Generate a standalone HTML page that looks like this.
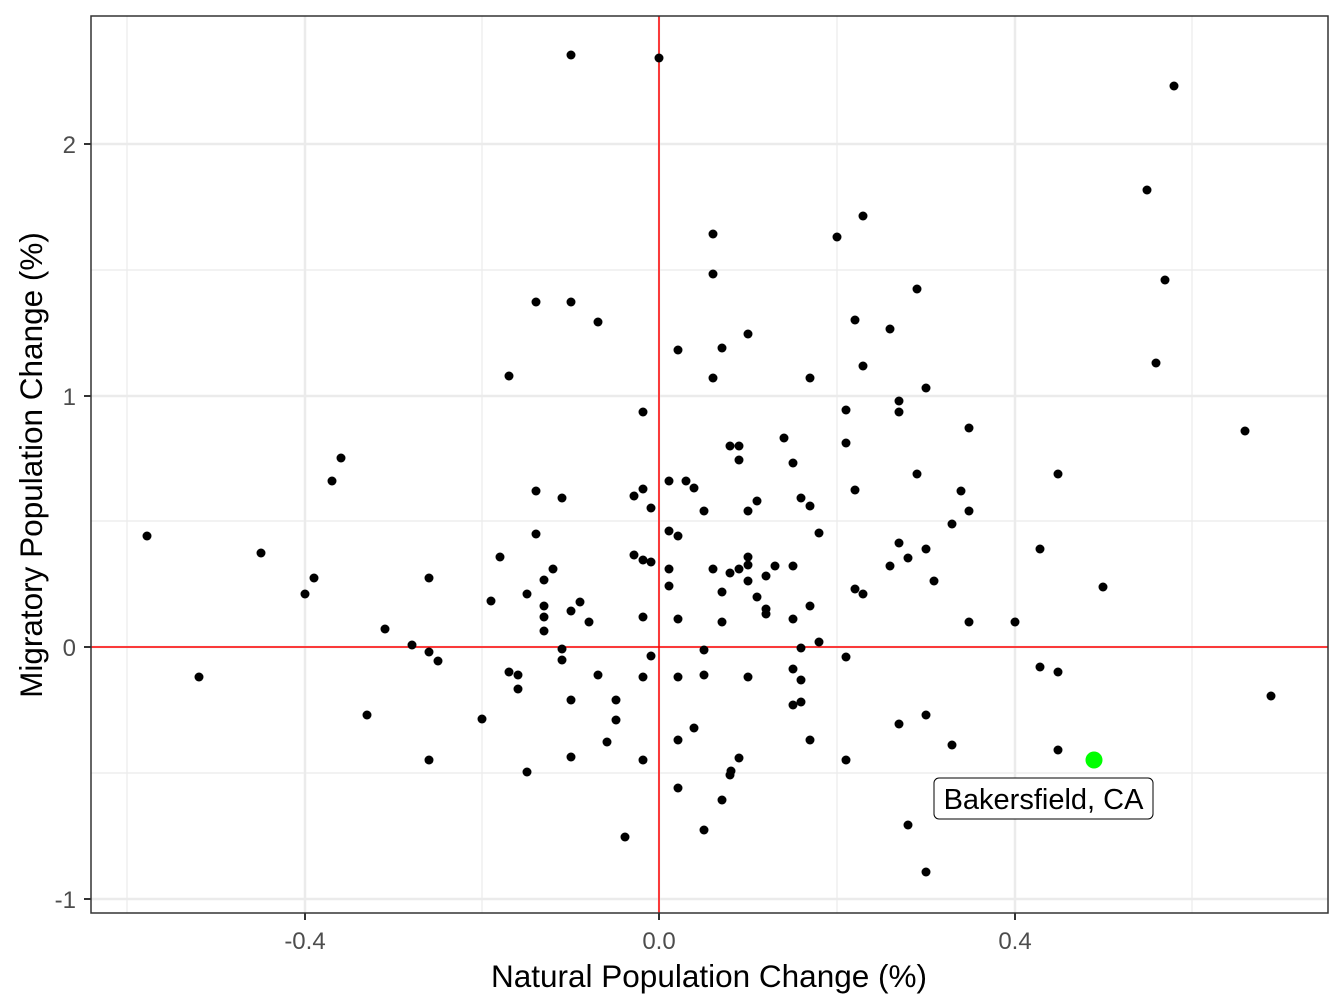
<!DOCTYPE html>
<html><head><meta charset="utf-8"><style>body{margin:0;background:#fff}svg{display:block}text{font-family:"Liberation Sans",sans-serif}</style></head><body>
<svg width="1344" height="1008" xmlns="http://www.w3.org/2000/svg">
<rect width="1344" height="1008" fill="#fff"/>
<g stroke="#ebebeb" stroke-width="1.2">
<line x1="127" y1="16" x2="127" y2="913"/><line x1="482" y1="16" x2="482" y2="913"/><line x1="837" y1="16" x2="837" y2="913"/><line x1="1192" y1="16" x2="1192" y2="913"/>
<line x1="91" y1="270" x2="1328" y2="270"/><line x1="91" y1="521" x2="1328" y2="521"/><line x1="91" y1="773" x2="1328" y2="773"/>
</g>
<g stroke="#ebebeb" stroke-width="2.5">
<line x1="305" y1="16" x2="305" y2="913"/><line x1="659" y1="16" x2="659" y2="913"/><line x1="1015" y1="16" x2="1015" y2="913"/>
<line x1="91" y1="144" x2="1328" y2="144"/><line x1="91" y1="396" x2="1328" y2="396"/><line x1="91" y1="647" x2="1328" y2="647"/><line x1="91" y1="899" x2="1328" y2="899"/>
</g>
<line x1="659" y1="16" x2="659" y2="913" stroke="#f00" stroke-width="1.5"/>
<line x1="91" y1="647" x2="1328" y2="647" stroke="#f00" stroke-width="1.5"/>
<g fill="#000">
<circle cx="147" cy="536" r="4.5"/><circle cx="199" cy="677" r="4.5"/><circle cx="261" cy="553" r="4.5"/><circle cx="305" cy="594" r="4.5"/><circle cx="314" cy="578" r="4.5"/><circle cx="332" cy="481" r="4.5"/><circle cx="341" cy="458" r="4.5"/><circle cx="367" cy="715" r="4.5"/><circle cx="385" cy="629" r="4.5"/><circle cx="412" cy="645" r="4.5"/><circle cx="429" cy="578" r="4.5"/><circle cx="429" cy="652" r="4.5"/><circle cx="429" cy="760" r="4.5"/><circle cx="438" cy="661" r="4.5"/><circle cx="482" cy="719" r="4.5"/><circle cx="491" cy="601" r="4.5"/><circle cx="500" cy="557" r="4.5"/><circle cx="509" cy="376" r="4.5"/><circle cx="509" cy="672" r="4.5"/><circle cx="518" cy="675" r="4.5"/><circle cx="518" cy="689" r="4.5"/><circle cx="527" cy="594" r="4.5"/><circle cx="527" cy="772" r="4.5"/><circle cx="536" cy="302" r="4.5"/><circle cx="536" cy="491" r="4.5"/><circle cx="536" cy="534" r="4.5"/><circle cx="544" cy="580" r="4.5"/><circle cx="553" cy="569" r="4.5"/><circle cx="544" cy="606" r="4.5"/><circle cx="544" cy="617" r="4.5"/><circle cx="544" cy="631" r="4.5"/><circle cx="562" cy="649" r="4.5"/><circle cx="562" cy="660" r="4.5"/><circle cx="571" cy="302" r="4.5"/><circle cx="562" cy="498" r="4.5"/><circle cx="571" cy="611" r="4.5"/><circle cx="571" cy="700" r="4.5"/><circle cx="571" cy="757" r="4.5"/><circle cx="580" cy="602" r="4.5"/><circle cx="589" cy="622" r="4.5"/><circle cx="598" cy="322" r="4.5"/><circle cx="598" cy="675" r="4.5"/><circle cx="607" cy="742" r="4.5"/><circle cx="616" cy="700" r="4.5"/><circle cx="616" cy="720" r="4.5"/><circle cx="625" cy="837" r="4.5"/><circle cx="634" cy="555" r="4.5"/><circle cx="634" cy="496" r="4.5"/><circle cx="643" cy="412" r="4.5"/><circle cx="643" cy="489" r="4.5"/><circle cx="643" cy="560" r="4.5"/><circle cx="643" cy="617" r="4.5"/><circle cx="643" cy="677" r="4.5"/><circle cx="643" cy="760" r="4.5"/><circle cx="651" cy="508" r="4.5"/><circle cx="651" cy="562" r="4.5"/><circle cx="651" cy="656" r="4.5"/><circle cx="659" cy="58" r="4.5"/><circle cx="571" cy="55" r="4.5"/><circle cx="669" cy="481" r="4.5"/><circle cx="669" cy="531" r="4.5"/><circle cx="669" cy="569" r="4.5"/><circle cx="669" cy="586" r="4.5"/><circle cx="678" cy="350" r="4.5"/><circle cx="678" cy="536" r="4.5"/><circle cx="678" cy="619" r="4.5"/><circle cx="678" cy="677" r="4.5"/><circle cx="678" cy="740" r="4.5"/><circle cx="678" cy="788" r="4.5"/><circle cx="686" cy="481" r="4.5"/><circle cx="694" cy="488" r="4.5"/><circle cx="694" cy="728" r="4.5"/><circle cx="704" cy="511" r="4.5"/><circle cx="704" cy="650" r="4.5"/><circle cx="704" cy="675" r="4.5"/><circle cx="704" cy="830" r="4.5"/><circle cx="713" cy="234" r="4.5"/><circle cx="713" cy="274" r="4.5"/><circle cx="713" cy="378" r="4.5"/><circle cx="713" cy="569" r="4.5"/><circle cx="722" cy="348" r="4.5"/><circle cx="722" cy="592" r="4.5"/><circle cx="722" cy="622" r="4.5"/><circle cx="722" cy="800" r="4.5"/><circle cx="730" cy="446" r="4.5"/><circle cx="730" cy="573" r="4.5"/><circle cx="730" cy="775" r="4.5"/><circle cx="731" cy="771" r="4.5"/><circle cx="739" cy="446" r="4.5"/><circle cx="739" cy="460" r="4.5"/><circle cx="739" cy="569" r="4.5"/><circle cx="739" cy="758" r="4.5"/><circle cx="748" cy="334" r="4.5"/><circle cx="748" cy="511" r="4.5"/><circle cx="748" cy="557" r="4.5"/><circle cx="748" cy="565" r="4.5"/><circle cx="748" cy="581" r="4.5"/><circle cx="748" cy="677" r="4.5"/><circle cx="757" cy="501" r="4.5"/><circle cx="757" cy="597" r="4.5"/><circle cx="766" cy="576" r="4.5"/><circle cx="766" cy="609" r="4.5"/><circle cx="766" cy="614" r="4.5"/><circle cx="775" cy="566" r="4.5"/><circle cx="784" cy="438" r="4.5"/><circle cx="793" cy="463" r="4.5"/><circle cx="793" cy="566" r="4.5"/><circle cx="793" cy="619" r="4.5"/><circle cx="793" cy="669" r="4.5"/><circle cx="793" cy="705" r="4.5"/><circle cx="801" cy="498" r="4.5"/><circle cx="801" cy="648" r="4.5"/><circle cx="801" cy="680" r="4.5"/><circle cx="801" cy="702" r="4.5"/><circle cx="810" cy="378" r="4.5"/><circle cx="810" cy="506" r="4.5"/><circle cx="810" cy="606" r="4.5"/><circle cx="810" cy="740" r="4.5"/><circle cx="819" cy="533" r="4.5"/><circle cx="819" cy="642" r="4.5"/><circle cx="837" cy="237" r="4.5"/><circle cx="846" cy="410" r="4.5"/><circle cx="846" cy="443" r="4.5"/><circle cx="846" cy="657" r="4.5"/><circle cx="846" cy="760" r="4.5"/><circle cx="855" cy="320" r="4.5"/><circle cx="855" cy="490" r="4.5"/><circle cx="855" cy="589" r="4.5"/><circle cx="863" cy="216" r="4.5"/><circle cx="863" cy="366" r="4.5"/><circle cx="863" cy="594" r="4.5"/><circle cx="890" cy="329" r="4.5"/><circle cx="890" cy="566" r="4.5"/><circle cx="899" cy="401" r="4.5"/><circle cx="899" cy="412" r="4.5"/><circle cx="899" cy="543" r="4.5"/><circle cx="899" cy="724" r="4.5"/><circle cx="908" cy="558" r="4.5"/><circle cx="917" cy="289" r="4.5"/><circle cx="917" cy="474" r="4.5"/><circle cx="926" cy="388" r="4.5"/><circle cx="926" cy="549" r="4.5"/><circle cx="926" cy="715" r="4.5"/><circle cx="926" cy="872" r="4.5"/><circle cx="934" cy="581" r="4.5"/><circle cx="908" cy="825" r="4.5"/><circle cx="952" cy="524" r="4.5"/><circle cx="952" cy="745" r="4.5"/><circle cx="961" cy="491" r="4.5"/><circle cx="969" cy="428" r="4.5"/><circle cx="969" cy="511" r="4.5"/><circle cx="969" cy="622" r="4.5"/><circle cx="1015" cy="622" r="4.5"/><circle cx="1040" cy="549" r="4.5"/><circle cx="1040" cy="667" r="4.5"/><circle cx="1058" cy="474" r="4.5"/><circle cx="1058" cy="672" r="4.5"/><circle cx="1058" cy="750" r="4.5"/><circle cx="1103" cy="587" r="4.5"/><circle cx="1147" cy="190" r="4.5"/><circle cx="1156" cy="363" r="4.5"/><circle cx="1165" cy="280" r="4.5"/><circle cx="1174" cy="86" r="4.5"/><circle cx="1245" cy="431" r="4.5"/><circle cx="1271" cy="696" r="4.5"/>
</g>
<circle cx="1094" cy="760" r="8.5" fill="#00ff00"/>
<rect x="934" y="778" width="219" height="41" rx="5" fill="#fff" stroke="#000" stroke-width="1"/>
<text x="1043.5" y="809" font-size="29" text-anchor="middle">Bakersfield, CA</text>
<rect x="91" y="16" width="1237" height="897" fill="none" stroke="#333" stroke-width="1.5"/>
<g stroke="#333" stroke-width="2">
<line x1="305" y1="913" x2="305" y2="920"/><line x1="659" y1="913" x2="659" y2="920"/><line x1="1015" y1="913" x2="1015" y2="920"/>
<line x1="84" y1="144" x2="91" y2="144"/><line x1="84" y1="396" x2="91" y2="396"/><line x1="84" y1="647" x2="91" y2="647"/><line x1="84" y1="899" x2="91" y2="899"/>
</g>
<g fill="#4d4d4d" font-size="24">
<text x="305" y="949" text-anchor="middle">-0.4</text><text x="659" y="949" text-anchor="middle">0.0</text><text x="1015" y="949" text-anchor="middle">0.4</text>
<text x="76" y="153" text-anchor="end">2</text><text x="76" y="405" text-anchor="end">1</text><text x="76" y="656" text-anchor="end">0</text><text x="76" y="908" text-anchor="end">-1</text>
</g>
<text x="709" y="987" font-size="31.5" text-anchor="middle">Natural Population Change (%)</text>
<text transform="translate(42,465) rotate(-90)" font-size="31.5" text-anchor="middle">Migratory Population Change (%)</text>
</svg>
</body></html>
